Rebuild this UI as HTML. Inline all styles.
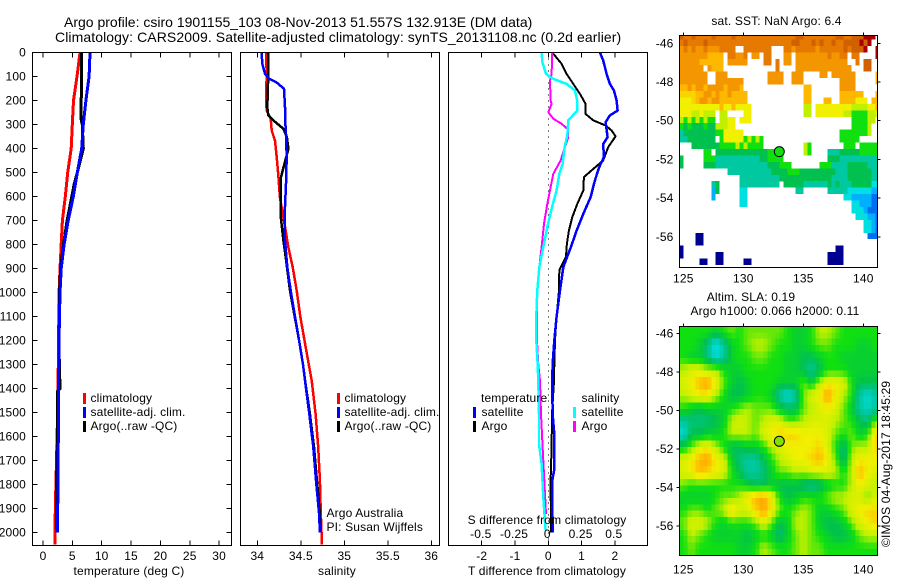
<!DOCTYPE html>
<html>
<head>
<meta charset="utf-8">
<title>Argo profile</title>
<style>
html,body{margin:0;padding:0;background:#fff;}
svg{display:block;}
text{font-family:"Liberation Sans",sans-serif;font-size:12px;fill:#000;letter-spacing:0.15px;}
.title{font-size:14px;letter-spacing:0;}
</style>
</head>
<body>
<svg id="chart" xmlns="http://www.w3.org/2000/svg" width="900" height="580" viewBox="0 0 900 580">
<defs>
<clipPath id="clip-map1"><rect x="680" y="35.5" width="197" height="232"/></clipPath>
<clipPath id="clip-map2"><rect x="680" y="326" width="197" height="229"/></clipPath>
</defs>
<rect x="0" y="0" width="900" height="580" fill="#fff"/>
<text class="title" x="64" y="27">Argo profile: csiro 1901155_103 08-Nov-2013 51.557S 132.913E (DM data)</text>
<text class="title" x="55" y="42" style="letter-spacing:0.09px">Climatology: CARS2009. Satellite-adjusted climatology: synTS_20131108.nc (0.2d earlier)</text>

<g id="temp-panel"></g>
<g id="sal-panel"></g>
<g id="diff-panel"></g>
<g id="map1"></g>
<g id="map2"></g>

<text x="129" y="575" text-anchor="middle">temperature (deg C)</text>
<text x="337" y="575" text-anchor="middle">salinity</text>
<text x="547" y="575" text-anchor="middle">T difference from climatology</text>
<text x="547" y="524" text-anchor="middle">S difference from climatology</text>

<g>
<rect x="83" y="393" width="3" height="11" fill="#f00"/>
<rect x="83" y="407" width="3" height="11" fill="#00f"/>
<rect x="83" y="421" width="3" height="11" fill="#000"/>
<text x="90.5" y="402">climatology</text>
<text x="90.5" y="416">satellite-adj. clim.</text>
<text x="90.5" y="430">Argo(..raw -QC)</text>
</g>
<g>
<rect x="337" y="393" width="3" height="11" fill="#f00"/>
<rect x="337" y="407" width="3" height="11" fill="#00f"/>
<rect x="337" y="421" width="3" height="11" fill="#000"/>
<text x="344.5" y="402">climatology</text>
<text x="344.5" y="416">satellite-adj. clim.</text>
<text x="344.5" y="430">Argo(..raw -QC)</text>
<text x="326.5" y="517">Argo Australia</text>
<text x="326.5" y="531">PI: Susan Wijffels</text>
</g>
<g>
<text x="481" y="402">temperature</text>
<text x="581.5" y="402">salinity</text>
<rect x="473" y="407" width="3" height="11" fill="#00f"/>
<rect x="473" y="421" width="3" height="11" fill="#000"/>
<rect x="573" y="407" width="3" height="11" fill="#0ff"/>
<rect x="573" y="421" width="3" height="11" fill="#f0f"/>
<text x="481.5" y="416">satellite</text>
<text x="481.5" y="430">Argo</text>
<text x="581.5" y="416">satellite</text>
<text x="581.5" y="430">Argo</text>
</g>

<text x="776.5" y="25" text-anchor="middle">sat. SST: NaN Argo: 6.4</text>
<text x="751" y="301" text-anchor="middle">Altim. SLA: 0.19</text>
<text x="690.5" y="315">Argo h1000: 0.066 h2000: 0.11</text>
<text transform="translate(890,547) rotate(-90)">©IMOS 04-Aug-2017 18:45:29</text>
</svg>

<script>
// ---------- axis ticks ----------
const depthTicks = [0,100,200,300,400,500,600,700,800,900,1000,1100,1200,1300,1400,1500,1600,1700,1800,1900,2000];
const tempTicks = [0,5,10,15,20,25,30];
const salTicks = [34,34.5,35,35.5,36];
const salTickLabels = ['34','34.5','35','35.5','36'];
const tDiffTicks = [-2,-1,0,1,2];
const sDiffTicks = [-0.5,-0.25,0,0.25,0.5];
const sDiffTickLabels = ['-0.5','-0.25','0','0.25','0.5'];
const lonTicks = [125,130,135,140];
const latTicks = [-46,-48,-50,-52,-54,-56];

// ---------- temperature profiles ----------
const tempClimDepth = [0,100,200,300,400,500,600,700,800,900,1000,1200,1400,1600,1700,1900,2050];
const tempClim = [6.3,5.8,5.2,5.0,4.8,4.2,3.8,3.3,3.1,2.9,2.75,2.65,2.55,2.4,2.3,2.1,2.05];
const tempSatDepth = [0,100,200,300,400,500,600,700,800,900,1000,1200,1400,1600,1800,2000];
const tempSat = [8.0,7.85,7.3,6.87,6.6,5.85,5.16,4.3,3.6,3.1,2.9,2.73,2.65,2.6,2.55,2.45];
const tempArgoDepth = [0,100,200,280,300,400,500,550,600,700,800,900,1000,1200,1400,1410,1500,1600,1800,1900,2000];
const tempArgo = [6.6,6.6,6.5,6.5,6.7,6.87,5.85,5.3,4.9,4.1,3.5,3.0,2.8,2.7,2.9,2.5,2.45,2.45,2.3,2.3,2.35];

// ---------- salinity profiles ----------
const salClimDepth = [0,89,200,242,276,325,367,436,506,603,672,742,811,894,992,1100,1200,1300,1367,1506,1644,1783,1922,2050];
const salClim = [34.10,34.108,34.10,34.108,34.154,34.165,34.203,34.223,34.24,34.26,34.292,34.326,34.356,34.407,34.453,34.494,34.543,34.592,34.625,34.67,34.70,34.72,34.73,34.744];
const salSatDepth = [0,47,89,110,124,151,228,270,339,436,547,672,783,894,992,1100,1200,1300,1367,1506,1644,1783,1922,2000];
const salSat = [34.05,34.058,34.088,34.138,34.22,34.307,34.318,34.318,34.33,34.338,34.33,34.315,34.318,34.345,34.384,34.433,34.48,34.525,34.548,34.598,34.644,34.675,34.71,34.72];
const salArgoDepth = [0,89,228,262,283,318,353,401,471,519,603,686,783,853,992,1100,1200,1300,1367,1506,1644,1783,1922,2000];
const salArgo = [34.126,34.126,34.115,34.126,34.184,34.30,34.34,34.357,34.307,34.272,34.27,34.27,34.30,34.326,34.376,34.43,34.48,34.525,34.55,34.605,34.652,34.685,34.72,34.725];

// ---------- difference profiles ----------
const dTSatDepth = [0,33,89,131,158,200,242,262,290,353,381,436,478,533,603,672,742,811,894,992,1100,1200,1300,1367,1506,1575,1744,1783,2000];
const dTSat = [1.55,1.65,1.75,1.85,1.97,2.05,2.08,1.85,1.72,1.78,1.65,1.67,1.53,1.4,1.27,1.05,0.85,0.68,0.45,0.35,0.25,0.18,0.13,0.12,0.13,0.17,0.17,0.12,0.13];
const dTArgoDepth = [0,47,89,131,172,214,256,283,304,325,349,394,450,485,519,575,631,686,742,797,853,908,992,1100,1200,1300,1367,1506,1644,1783,2000];
const dTArgo = [0.12,0.4,0.55,0.75,0.95,1.12,1.12,1.35,1.72,1.9,2.02,1.8,1.65,1.35,1.07,1.05,0.87,0.72,0.62,0.56,0.53,0.33,0.32,0.25,0.2,0.18,0.17,0.11,0.1,0.07,0.08];
const dSSatDepth = [0,40,89,110,131,158,200,242,283,346,394,464,506,575,644,728,811,894,992,1100,1200,1300,1367,1506,1631,1714,1853,1992];
const dSSat = [-0.05,-0.045,-0.0175,0.0375,0.1375,0.2,0.2175,0.2175,0.15,0.1425,0.1225,0.1075,0.0825,0.0625,0.0275,-0.0075,-0.0375,-0.0675,-0.0825,-0.09,-0.09,-0.08,-0.075,-0.07,-0.07,-0.05,-0.0375,-0.02];
const dSArgoDepth = [0,89,117,200,214,249,276,297,318,353,394,450,506,561,631,714,811,894,992,1100,1200,1300,1367,1506,1644,1783,1922];
const dSArgo = [0.03,0.025,0.0125,0.0175,0.025,0,0.0375,0.1,0.1425,0.15,0.125,0.0925,0.0375,0.0175,-0.0075,-0.0325,-0.05,-0.0675,-0.0825,-0.085,-0.085,-0.075,-0.0625,-0.055,-0.0425,-0.03,-0.0175];

// ---------- SST map levels (0 = no data) ----------
const sstRows = [
[13,12,12,13,12,12,12,12,13,12,12,12,12,13,12,12,12,12,12,12,12,12,12,12,12,12,12,12,12,13,13,12,12,12,12,12,12,12,12,13,13,12,12,13,13,13,14,14,14,0],
[12,13,12,12,12,12,13,12,12,12,12,12,12,12,12,12,12,12,12,12,12,12,12,12,12,12,12,12,13,13,12,12,12,13,12,13,12,12,13,12,12,13,13,13,13,14,13,14,0,0],
[11,12,11,12,11,11,12,11,11,11,12,12,12,12,0,0,12,12,12,12,12,12,12,0,0,0,12,12,11,12,12,12,12,12,11,12,12,12,12,12,12,13,12,13,13,13,14,0,0,14],
[11,11,11,11,11,11,11,10,10,10,10,0,12,12,11,11,12,0,11,11,0,12,12,0,0,0,11,11,0,11,11,11,11,11,11,11,11,12,11,11,12,12,0,12,12,0,0,0,0,14],
[11,11,11,11,11,10,10,10,10,10,10,0,11,11,11,11,11,0,0,0,0,12,12,0,12,0,11,11,0,11,11,11,11,11,11,11,11,11,11,11,11,11,0,0,12,0,13,13,0,0],
[11,11,11,11,11,11,0,11,10,10,10,0,0,0,0,0,0,0,0,0,0,0,0,0,12,0,0,0,0,11,11,11,11,11,11,11,11,11,11,11,11,11,11,0,0,0,13,13,0,0],
[11,11,11,11,11,11,11,0,0,11,11,11,0,0,0,0,0,0,0,0,0,0,11,11,11,11,0,0,11,11,11,0,0,0,0,11,11,0,11,11,11,11,11,11,0,0,0,0,0,10],
[11,11,11,11,11,11,11,0,0,11,11,11,11,11,11,11,0,0,0,0,0,0,11,11,11,11,0,0,11,11,11,0,0,0,0,0,0,0,0,0,11,11,11,11,0,0,0,0,0,10],
[10,10,11,10,11,11,10,11,11,11,11,10,11,11,11,10,0,0,0,0,0,0,0,0,0,0,0,0,0,0,0,10,10,0,0,0,0,0,0,0,11,11,11,11],
[9.5,9.5,9.5,9.5,10,10,11,11,10,11,10,10,11,10,10,10,10,0,0,0,0,0,0,0,0,0,0,0,0,0,0,10,10,0,0,0,0,0,0,0,10,10,10,10,10,10,0,0,0,10],
[9,9,9,9.5,10,11,11,10,11,11,10,10,10,10,10,10,10,0,0,0,0,0,0,0,0,0,0,0,0,0,0,10,10,0,0,0,10,10,0,0,10,10,10,10,9,9,9,0,10,10],
[9,9,9,9,9,9,9,9,9,9,10,9,9,10,9,9,9,9,0,0,0,0,0,0,0,0,0,0,0,0,0,8,8,0,9,9,9,9,9,9,9,9,9,8,8,8,8,9,9,10],
[9,9,9,8,8,9,8,8,8,0,8,8,0,0,0,0,9,9,0,0,0,0,0,0,0,0,0,0,0,0,0,8,8,0,9,9,9,9,9,9,9,8,8,7,7,7,7,8,8,9],
[8,7,8,7,8,7,8,7,7,0,8,8,9,9,0,9,9,9,0,0,0,0,0,0,0,0,0,0,0,0,0,0,0,0,0,0,0,0,0,0,0,0,0,7,7,7,7,8,8],
[7,6,7,6,6,6,7,6,6,8,8,8,9,9,0,0,0,0,0,0,0,0,0,0,0,0,0,0,0,0,0,0,0,0,0,0,0,0,0,0,0,0,0,7,7,7,7,8],
[5,6,6,6,6,6,6,6,6,7,7,9,9,9,9,9,0,0,0,0,0,0,0,0,0,0,0,0,0,0,0,0,0,0,0,0,0,0,0,0,7,7,7,7,7,7,7,8],
[5,5,6,6,6,6,6,6,6,0,7,9,9,9,9,9,7,8,7,8,7,0,0,0,0,0,0,0,0,0,0,0,0,0,0,0,0,0,0,0,7,7,7,7,7],
[0,0,0,6,6,6,6,6,6,6,7,7,7,7,8,7,8,7,7,7,7,0,0,0,0,0,0,0,0,0,0,8,7,0,0,0,0,0,0,0,0,7,7,7,0,7,7,7,7,7],
[0,0,0,0,0,0,7,7,0,6,6,6,6,6,6,6,6,6,6,6,6,6,7,7,7,7,0,0,0,0,0,8,7,0,0,0,0,5,5,5,6,6,6,6,6,7,7,7,7,7],
[6,0,0,0,0,0,7,7,7,5,5,5,5,5,5,5,5,5,5,5,6,6,7,7,7,7,0,0,0,0,0,0,0,0,0,0,0,6,6,6,5,5,5,5,5,5,5,5,5,5],
[6,0,0,0,0,0,6,6,6,5,5,5,5,5,5,5,5,5,5,5,5,5,6,6,6,7,7,7,0,0,0,0,0,0,0,7,7,7,5,5,5,5,6,6,6,6,6,5,5,5],
[0,0,0,0,0,0,0,0,0,0,0,0,5,5,5,5,5,5,5,5,5,5,5,6,6,6,6,7,7,7,6,6,6,6,6,6,6,6,6,5,5,5,6,6,6,6,6,6,5,5],
[0,0,0,0,0,0,0,0,0,0,0,0,0,0,0,5,5,5,5,5,5,5,5,5,5,6,6,6,6,6,6,6,6,6,6,6,6,6,5,5,5,5,6,6,6,6,6,6,5,5],
[0,0,0,0,0,0,0,0,5,6,0,0,0,0,0,5,5,5,5,5,5,5,5,5,5,0,6,6,6,6,6,5,5,5,5,5,5,6,5,6,5,5,5,6,6,6,6,6,4,4],
[0,0,0,0,0,0,0,0,3,6,0,0,0,0,0,4,4,0,0,0,0,0,0,0,0,0,0,0,0,5,5,0,0,0,0,0,0,5,5,5,5,5,4,4,4,4,4,4,3,3],
[0,0,0,0,0,0,0,0,3,0,0,0,0,0,0,4,4,0,0,0,0,0,0,0,0,0,0,0,0,0,0,0,0,0,0,0,0,0,0,0,0,4,4,3,3,3,3,3,2,2],
[0,0,0,0,0,0,0,0,0,0,0,0,0,0,0,4,4,0,0,0,0,0,0,0,0,0,0,0,0,0,0,0,0,0,0,0,0,0,0,0,0,0,0,4,4,3,3,3,2,2],
[0,0,0,0,0,0,0,0,0,0,0,0,0,0,0,0,0,0,0,0,0,0,0,0,0,0,0,0,0,0,0,0,0,0,0,0,0,0,0,0,0,0,0,4,4,4,3,2,2,2],
[0,0,0,0,0,0,0,0,0,0,0,0,0,0,0,0,0,0,0,0,0,0,0,0,0,0,0,0,0,0,0,0,0,0,0,0,0,0,0,0,0,0,0,0,4,4,4,3,3,2],
[0,0,0,0,0,0,0,0,0,0,0,0,0,0,0,0,0,0,0,0,0,0,0,0,0,0,0,0,0,0,0,0,0,0,0,0,0,0,0,0,0,0,0,0,0,0,4,4,3,2],
[0,0,0,0,0,0,0,0,0,0,0,0,0,0,0,0,0,0,0,0,0,0,0,0,0,0,0,0,0,0,0,0,0,0,0,0,0,0,0,0,0,0,0,0,0,0,4,4,3,2],
[0,0,0,0,1,1,0,0,0,0,0,0,0,0,0,0,0,0,0,0,0,0,0,0,0,0,0,0,0,0,0,0,0,0,0,0,0,0,0,0,0,0,0,0,0,0,0,2,2,2],
[0,0,0,0,1,1],
[1,0,0,0,0,0,0,0,0,0,0,0,0,0,0,0,0,0,0,0,0,0,0,0,0,0,0,0,0,0,0,0,0,0,0,0,0,0,0,1,1],
[1,0,0,0,0,0,0,0,0,1,1,0,0,0,0,0,0,0,0,0,0,0,0,0,0,0,0,0,0,0,0,0,0,0,0,0,0,1,1,1,1],
[0,0,0,0,0,1,1,0,0,1,1,0,0,0,0,0,1,1,0,0,0,0,0,0,0,0,0,0,0,0,0,0,0,0,0,0,0,1,1,1,1]
];

// ---------- SLA map levels (coarse samples, same colour scale) ----------
const slaRows = [
[7,7,7,7,6.5,7,7.5,7,7.5,7.5,7.5,7.5,7.5,7,6.5,6.5,7,8,8,7.5,7,7,7,7,7],
[7,7,6.5,5.5,3.8,5,6.5,7,7.5,8,8,7.5,7,7,6.5,6.5,7,7.5,7.5,7,7,7,6.5,6.5,7],
[7,6.5,6.5,5.5,4.2,5,6.5,7,7,7.5,7.5,7,7,6.5,6.5,6,6,6.5,7,7,6.5,6.5,6.5,6.5,6.5],
[8,8.5,8.5,8,8,7,6.5,6.5,7,7,7,7,7,6.5,6.5,6,5,6,7,7,7,6.5,6.5,6.5,6.5],
[8.5,9,10,10.5,9,7.5,6.5,6,6.5,7,7,7,6.5,6.5,6.5,7.5,6.5,8,9,9,8.5,7,6,6,6],
[8,8.5,9,9,8,7,6,6,6.5,7,7,6.5,5,4,5,7.5,8.5,9,10.5,9,8,7,5,4.2,5],
[7,6.5,6,6.5,6.5,6.5,7,7.5,8,7.5,7.5,7.5,6.5,6,6,7.5,8,8.5,9,8.5,7.5,6.5,5,4.5,5],
[5,5.5,5.5,5.5,6,6.5,8,8.5,8,7.5,8,8.5,8.5,7.5,7.5,8,8.5,8.5,8.5,8,7.5,7,6,5.5,7.5],
[4.2,6,6,6.5,6.5,7,8,8,8,7.5,8.5,9,9.5,9.5,9.5,9,9,9,8.5,7.5,7,7.5,6.5,7,9.5],
[6.5,7.5,8.5,9,8,7,6,6,6.5,6.5,7,8,8.5,9,9,9,9,9.5,8.5,7,5.5,7.5,8,8,9.5],
[8.5,9,10,10.5,9,8.5,6.5,5.5,5,5,6,7,8,8.5,9,9,9.5,10,9,7.5,5.5,8,9,9,9],
[8.5,9,10,9.5,9,8.5,7,6,5,5,5.5,6.5,7.5,7.5,8,8,8.5,8.5,8.5,8,7,8,10,9,8.5],
[7.5,7,7,7,7,7,7,7,6.5,6,6,6.5,6,6,6,5.5,5,5.5,6.5,7,7,8,9,8.5,8],
[6.5,6.5,6.5,6.5,7,7.5,7.5,8,9,10,10.5,9,7,6,6.5,7,7,7,7.5,8,8,8.5,8.5,7.5,8.5],
[7,7.5,7.5,7,7.5,8,9.5,8.5,8.5,9.5,10.5,9,7.5,7,7.5,8,7.5,6.5,6.5,7,7.5,8.5,9,9.5,9.5],
[7.5,8.5,8.5,8,7,6.5,7,7,7,7.5,8.5,7.5,6,6.5,8,8,7.5,6.5,6,6,6.5,7.5,8.5,9,9.5],
[7,8,7.5,7,6.5,6.5,6.5,6.5,6,6.5,7,6.5,5.5,6.5,7.5,8,7.5,7,6.5,6,6,6.5,7.5,8,8],
[7,7.5,7,7,7,7,7,6.5,6.5,7,8,7.5,7,7,7.5,8,7.5,7.5,7,7,7,7,7,7,7]
];

const argoLon = 133;
const argoLat = -51.6;

// ---------- scales ----------
const depthY = d => 52.5 + d * 0.24;
const tempX = v => 43 + v * 5.87;
const salX = v => 257.3 + (v - 34) * 87;
const dTX = v => 548.3 + v * 33.3;
const dSX = v => 548.3 + v * 133;
const lonX = v => 683.3 + (v - 125) * 12;
const lat1Y = v => 43.3 + (-46 - v) * 19.35;
const lat2Y = v => 333.5 + (-46 - v) * 19.25;

const NS = 'http://www.w3.org/2000/svg';
function mk(tag, attrs, parent) {
  const el = document.createElementNS(NS, tag);
  for (const k in attrs) el.setAttribute(k, attrs[k]);
  parent.appendChild(el);
  return el;
}
function label(parent, x, y, s, anchor) {
  const el = mk('text', {x: x, y: y, 'text-anchor': anchor}, parent);
  
  
  el.textContent = s;
}
function tick(parent, x1, y1, x2, y2) {
  const el = mk('line', {x1: x1, y1: y1, x2: x2, y2: y2, stroke: '#000', 'stroke-width': 1, 'shape-rendering': 'crispEdges'}, parent);
  
  
}
function frame(parent, x, y, w, h) {
  const el = mk('rect', {x: x, y: y, width: w, height: h, fill: 'none', stroke: '#000', 'stroke-width': 1, 'shape-rendering': 'crispEdges'}, parent);
  
  
}
function profile(parent, name, depths, vals, xf, color, w) {
  const pts = depths.map((d, i) => xf(vals[i]).toFixed(1) + ',' + depthY(d).toFixed(1)).join(' ');
  const el = mk('polyline', {points: pts, fill: 'none', stroke: color, 'stroke-width': w, 'shape-rendering': 'crispEdges', 'stroke-linejoin': 'round'}, parent);
  
  
}

// ---------- panel 1 ----------
const p1 = document.getElementById('temp-panel');
profile(p1, 'temperature-climatology-line', tempClimDepth, tempClim, tempX, '#f00', 3);
profile(p1, 'temperature-argo-line', tempArgoDepth, tempArgo, tempX, '#000', 3);
profile(p1, 'temperature-satellite-line', tempSatDepth, tempSat, tempX, '#00f', 3);
frame(p1, 32.5, 52.5, 199, 493);
depthTicks.forEach(d => {
  tick(p1, 32.5, depthY(d), 37.5, depthY(d));
  tick(p1, 226.5, depthY(d), 231.5, depthY(d));
  label(p1, 26, depthY(d) + 4, String(d), 'end');
});
tempTicks.forEach(v => {
  tick(p1, tempX(v), 52.5, tempX(v), 57.5);
  tick(p1, tempX(v), 540.5, tempX(v), 545.5);
  label(p1, tempX(v), 560, String(v), 'middle');
});

// ---------- panel 2 ----------
const p2 = document.getElementById('sal-panel');
profile(p2, 'salinity-climatology-line', salClimDepth, salClim, salX, '#f00', 2.5);
profile(p2, 'salinity-argo-line', salArgoDepth, salArgo, salX, '#000', 2.5);
profile(p2, 'salinity-satellite-line', salSatDepth, salSat, salX, '#00f', 2.5);
frame(p2, 240.5, 52.5, 199, 493);
salTicks.forEach((v, i) => {
  tick(p2, salX(v), 52.5, salX(v), 57.5);
  tick(p2, salX(v), 540.5, salX(v), 545.5);
  label(p2, salX(v), 560, salTickLabels[i], 'middle');
});

// ---------- panel 3 ----------
const p3 = document.getElementById('diff-panel');
const zero = mk('line', {x1: dTX(0), y1: 52.5, x2: dTX(0), y2: 545.5, stroke: '#000', 'stroke-width': 1, 'stroke-dasharray': '1 5', 'shape-rendering': 'crispEdges'}, p3);


profile(p3, 'difference-t-argo-line', dTArgoDepth, dTArgo, dTX, '#000', 2);
profile(p3, 'difference-t-satellite-line', dTSatDepth, dTSat, dTX, '#00f', 2.5);
profile(p3, 'difference-s-argo-line', dSArgoDepth, dSArgo, dSX, '#f0f', 2);
profile(p3, 'difference-s-satellite-line', dSSatDepth, dSSat, dSX, '#0ff', 2.5);
frame(p3, 448.5, 52.5, 199, 493);
tDiffTicks.forEach(v => {
  tick(p3, dTX(v), 52.5, dTX(v), 57.5);
  tick(p3, dTX(v), 540.5, dTX(v), 545.5);
  label(p3, dTX(v), 560, String(v), 'middle');
});
sDiffTicks.forEach((v, i) => label(p3, dSX(v) - 1, 538, sDiffTickLabels[i], 'middle'));

// ---------- map colour scale ----------
const levelColours = ['#ffffff','#000090','#0070f0','#00b0ff','#00e0e0','#00c8a0','#00c050','#10e010','#c0f000','#f0f000','#ffb800','#f49600','#e67a00','#d06000','#a80000'];
function rgb(hex) { return [1, 3, 5].map(i => parseInt(hex.substr(i, 2), 16)); }
function levelColour(v) {
  const a = Math.max(1, Math.min(13, Math.floor(v)));
  const f = Math.max(0, Math.min(1, v - a));
  const c0 = rgb(levelColours[a]);
  const c1 = rgb(levelColours[a + 1]);
  return 'rgb(' + c0.map((c, i) => Math.round(c + (c1[i] - c) * f)).join(',') + ')';
}
function mapCell(group, name, x, y, w, h, colour) {
  const el = mk('rect', {x: x.toFixed(2), y: y.toFixed(2), width: w, height: h, fill: colour, 'shape-rendering': 'crispEdges'}, group);
  
  
}
function marker(parent, cx, cy, colour) {
  const el = mk('circle', {cx: cx, cy: cy, r: 5, fill: colour, stroke: '#000', 'stroke-width': 1}, parent);
  
  
}
function mapAxes(parent, top, bottom, latY, labelGap, leftTicks) {
  frame(parent, 679.5, top, 198, bottom - top);
  lonTicks.forEach(v => {
    tick(parent, lonX(v), top - 3, lonX(v), top);
    label(parent, lonX(v), bottom + labelGap, String(v), 'middle');
  });
  latTicks.forEach(v => {
    tick(parent, 877.5, latY(v), 880.5, latY(v));
    if (leftTicks) tick(parent, 676.5, latY(v), 679.5, latY(v));
    label(parent, 673.5, latY(v) + 4, String(v), 'end');
  });
}

// ---------- SST map ----------
const m1 = document.getElementById('map1');
const g1 = mk('g', {'clip-path': 'url(#clip-map1)'}, m1);


sstRows.forEach((row, r) => row.forEach((v, c) => {
  if (v > 0) mapCell(g1, 'sst-cell', 679.3 + c * 4, 33 + r * 6.444, 4.02, 6.48, levelColour(v));
}));
mapAxes(m1, 35.5, 267.5, lat1Y, 15, false);
marker(m1, lonX(argoLon), lat1Y(argoLat), '#10e010');

// ---------- SLA map ----------
const m2 = document.getElementById('map2');
const g2 = mk('g', {'clip-path': 'url(#clip-map2)'}, m2);


function slaAt(fc, fr) {
  const c = Math.max(0, Math.min(24, fc));
  const r = Math.max(0, Math.min(17, fr));
  const c0 = Math.floor(c), r0 = Math.floor(r);
  const c1 = Math.min(24, c0 + 1), r1 = Math.min(17, r0 + 1);
  const a = slaRows[r0][c0] + (slaRows[r0][c1] - slaRows[r0][c0]) * (c - c0);
  const b = slaRows[r1][c0] + (slaRows[r1][c1] - slaRows[r1][c0]) * (c - c0);
  return a + (b - a) * (r - r0);
}
for (let r = 0; r < 36; r++) {
  for (let c = 0; c < 50; c++) {
    mapCell(g2, 'sla-cell', 679.3 + c * 4, 326 + r * 6.37, 4.02, 6.4, levelColour(slaAt((c - 0.5) / 2, (r - 0.44) / 2)));
  }
}
mapAxes(m2, 326.5, 555.5, lat2Y, 18, true);
marker(m2, lonX(argoLon), lat2Y(argoLat), '#80e000');
</script>
</body>
</html>
